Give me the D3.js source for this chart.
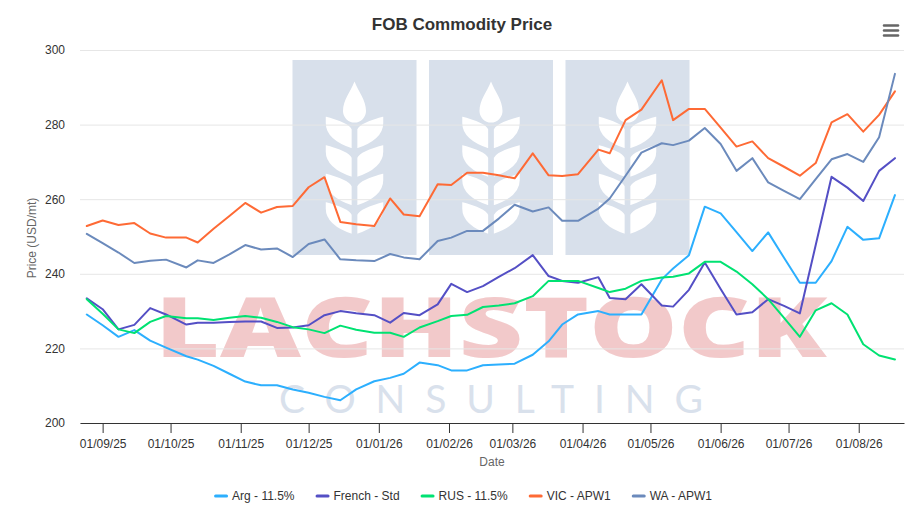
<!DOCTYPE html>
<html>
<head>
<meta charset="utf-8">
<script src="https://cdn.jsdelivr.net/npm/d3@7"></script>
<style>
  body { margin: 0; background: #ffffff; }
  text { font-family: "Liberation Sans", Arial, sans-serif; }
</style>
</head>
<body>
<div id="chart"></div>
<script>
// weekly observation dates
var dates = ["2025-08-25","2025-09-01","2025-09-08","2025-09-15","2025-09-22","2025-09-29",
  "2025-10-08","2025-10-13","2025-10-20","2025-10-27","2025-11-03","2025-11-10","2025-11-17",
  "2025-11-24","2025-12-01","2025-12-08","2025-12-15","2025-12-22","2025-12-30","2026-01-06",
  "2026-01-12","2026-01-19","2026-01-27","2026-02-02","2026-02-09","2026-02-16","2026-02-23",
  "2026-03-02","2026-03-10","2026-03-17","2026-03-23","2026-03-30","2026-04-08","2026-04-13",
  "2026-04-20","2026-04-27","2026-05-06","2026-05-11","2026-05-18","2026-05-25","2026-06-01",
  "2026-06-08","2026-06-15","2026-06-22","2026-06-29","2026-07-06","2026-07-13","2026-07-20",
  "2026-07-27","2026-08-03","2026-08-10","2026-08-17"];

var argValues = [229.1,226.2,223.1,224.9,222.1,220.2,217.9,217.0,215.3,213.2,211.1,210.1,210.1,
  209.0,208.1,207.0,206.1,209.0,211.2,212.1,213.2,216.2,215.5,214.1,214.1,215.5,215.7,215.9,
  218.3,221.9,226.4,229.1,230.0,229.1,229.1,229.1,238.5,241.4,245.0,258.0,256.2,251.2,246.1,
  251.1,244.3,237.6,237.6,243.4,252.6,249.1,249.5,261.1];

var frenchValues = [233.4,230.5,225.1,226.3,230.8,229.1,226.4,226.9,226.9,227.1,227.2,227.2,225.5,
  225.6,226.2,228.9,230.0,229.4,228.9,226.9,229.5,228.9,231.8,237.3,235.1,236.7,239.2,241.5,
  245.0,239.4,238.1,237.6,239.1,233.5,233.2,237.2,231.5,231.2,235.7,243.0,235.9,229.1,229.7,
  233.2,231.4,229.4,247.7,266.0,263.1,259.5,267.6,271.0];

var rusValues = [233.2,229.3,225.1,224.1,227.1,228.7,228.1,228.1,227.6,228.2,228.7,228.2,227.1,
  225.7,225.1,224.1,226.1,225.0,224.2,224.2,223.1,225.6,227.3,228.7,229.0,231.1,231.5,232.1,
  234.0,238.1,238.1,238.1,236.2,235.1,236.0,238.1,239.0,239.2,240.1,243.2,243.2,240.6,237.2,
  233.2,228.2,223.1,230.2,232.1,229.1,221.1,218.1,217.0];

var vicValues = [252.8,254.3,253.1,253.6,250.8,249.7,249.7,248.4,252.1,255.5,259.0,256.4,257.9,
  258.2,263.2,265.9,253.9,253.3,252.8,260.2,255.9,255.4,264.0,263.8,267.1,267.1,266.4,265.6,
  272.3,266.4,266.2,266.7,273.3,272.3,281.2,284.0,291.9,281.2,284.2,284.2,279.2,274.1,275.5,
  271.0,268.7,266.3,269.7,280.6,282.8,278.1,282.6,288.9];

var waValues = [250.7,248.2,245.7,242.9,243.5,243.8,241.7,243.6,242.9,245.2,247.7,246.5,246.8,
  244.5,248.0,249.2,243.9,243.6,243.4,245.3,244.4,243.9,248.8,249.7,251.5,251.5,254.8,258.5,
  256.7,257.8,254.2,254.2,257.5,260.2,266.3,272.5,275.0,274.5,275.7,279.1,274.8,267.6,271.0,
  264.5,262.2,260.0,265.4,270.7,272.1,270.0,276.6,293.6];

var seriesNames = ["Arg - 11.5%", "French - Std", "RUS - 11.5%", "VIC - APW1", "WA - APW1"];
var seriesColors = ["#2caffe", "#544fc5", "#00e272", "#fe6a35", "#6b8abc"];
var yTicks = [200, 220, 240, 260, 280, 300];
var xTickDates = ["2025-09-01","2025-10-01","2025-11-01","2025-12-01","2026-01-01","2026-02-01",
  "2026-03-01","2026-04-01","2026-05-01","2026-06-01","2026-07-01","2026-08-01"];

var svgWidth = 922;
var svgHeight = 521;

var margin = {
    top: 50,
    right: 18,
    bottom: 98,
    left: 80
};

var width = svgWidth - margin.left - margin.right;
var height = svgHeight - margin.top - margin.bottom;

var parseDate = d3.utcParse("%Y-%m-%d");

var allSeries = [argValues, frenchValues, rusValues, vicValues, waValues].map(function(vals, i) {
    return {
        name: seriesNames[i],
        color: seriesColors[i],
        points: vals.map(function(v, j) { return { date: parseDate(dates[j]), value: v }; })
    };
});

var svg = d3.select("#chart")
    .append("svg")
    .attr("width", svgWidth)
    .attr("height", svgHeight);

var chartGroup = svg.append("g")
    .attr("transform", `translate(${margin.left}, ${margin.top})`);

var xScale = d3.scaleUtc()
    .domain([parseDate("2025-08-22"), parseDate("2026-08-21")])
    .range([0, width]);

var yScale = d3.scaleLinear()
    .domain([200, 300])
    .range([height, 0]);

// watermark (logo panels + wording) sits behind the grid
var wm = chartGroup.append("g").attr("class", "watermark");
var cx = width / 2 - 1;
var panelColor = "#d8e0eb";

[-136.5, 0, 136.5].forEach(function(off) {
    var pc = cx + off;
    wm.append("rect")
        .attr("x", pc - 62).attr("y", 10)
        .attr("width", 124).attr("height", 195)
        .attr("fill", panelColor);

    // grain at the top
    wm.append("path")
        .attr("d", `M${pc},31.5 C${pc + 4},42 ${pc + 11.5},50 ${pc + 11.5},61 A11.5,11.5 0 0 1 ${pc - 11.5},61 C${pc - 11.5},50 ${pc - 4},42 ${pc},31.5 Z`)
        .attr("fill", "#ffffff");

    [65, 93.5, 122, 150.5].forEach(function(y0) {
        [-1, 1].forEach(function(s) {
            wm.append("path")
                .attr("d", `M${pc + s * 1.6},${y0 + 35} C${pc + s * 14},${y0 + 31} ${pc + s * 30},${y0 + 24} ${pc + s * 30},${y0 + 8} L${pc + s * 30},${y0} C${pc + s * 18},${y0 + 3} ${pc + s * 4},${y0 + 8} ${pc + s * 1.6},${y0 + 14} Z`)
                .attr("fill", "#ffffff")
                .attr("stroke", panelColor)
                .attr("stroke-width", 2.5);
        });
    });
});

wm.append("text")
    .attr("x", cx - 336).attr("y", 307)
    .attr("textLength", 672)
    .attr("lengthAdjust", "spacingAndGlyphs")
    .style("font-family", "'Open Sans', 'DejaVu Sans', sans-serif")
    .style("font-weight", 800)
    .style("font-size", "84px")
    .attr("fill", "#f2c9ca")
    .text("LACHSTOCK");

wm.append("text")
    .attr("x", cx - 212).attr("y", 363)
    .attr("textLength", 424)
    .attr("lengthAdjust", "spacing")
    .style("font-family", "Lato, 'Open Sans', sans-serif")
    .style("font-weight", 400)
    .style("font-size", "39px")
    .attr("fill", "#d9e1ec")
    .text("CONSULTING");

// y axis with grid lines
var leftAxis = d3.axisLeft(yScale)
    .tickValues(yTicks)
    .tickSize(-width)
    .tickPadding(15);

var yAxisGroup = chartGroup.append("g").call(leftAxis);
yAxisGroup.select(".domain").remove();
yAxisGroup.selectAll(".tick line").attr("stroke", "#e6e6e6");
yAxisGroup.selectAll(".tick text")
    .attr("fill", "#333333")
    .style("font-size", "12px")
    .style("font-family", "'Liberation Sans', Arial, sans-serif");

// x axis
var bottomAxis = d3.axisBottom(xScale)
    .tickValues(xTickDates.map(parseDate))
    .tickFormat(d3.utcFormat("%d/%m/%y"))
    .tickSize(10)
    .tickSizeOuter(0)
    .tickPadding(6);

var xAxisGroup = chartGroup.append("g")
    .attr("transform", `translate(0, ${height})`)
    .call(bottomAxis);
xAxisGroup.select(".domain").attr("stroke", "#333333");
xAxisGroup.selectAll(".tick line").attr("stroke", "#333333");
xAxisGroup.selectAll(".tick text")
    .attr("fill", "#333333")
    .style("font-size", "12px")
    .style("font-family", "'Liberation Sans', Arial, sans-serif");

// series lines
var line = d3.line()
    .x(d => xScale(d.date))
    .y(d => yScale(d.value));

chartGroup.selectAll(".series")
    .data(allSeries)
    .enter()
    .append("path")
    .attr("class", "series")
    .attr("d", d => line(d.points))
    .attr("fill", "none")
    .attr("stroke", d => d.color)
    .attr("stroke-width", 2)
    .attr("stroke-linejoin", "round")
    .attr("stroke-linecap", "round");

// titles
svg.append("text")
    .attr("x", 462)
    .attr("y", 30)
    .attr("text-anchor", "middle")
    .style("font-size", "17px")
    .style("font-weight", "bold")
    .attr("fill", "#333333")
    .text("FOB Commodity Price");

chartGroup.append("text")
    .attr("transform", `translate(${31.5 - margin.left}, ${238 - margin.top}) rotate(-90)`)
    .attr("text-anchor", "middle")
    .attr("dy", "0.35em")
    .style("font-size", "12px")
    .attr("fill", "#666666")
    .text("Price (USD/mt)");

chartGroup.append("text")
    .attr("x", width / 2)
    .attr("y", height + 43)
    .attr("text-anchor", "middle")
    .style("font-size", "12px")
    .attr("fill", "#666666")
    .text("Date");

// export menu icon
[25.5, 30.5, 35.5].forEach(function(yy) {
    svg.append("line")
        .attr("x1", 884).attr("x2", 898)
        .attr("y1", yy).attr("y2", yy)
        .attr("stroke", "#666666")
        .attr("stroke-width", 2.5)
        .attr("stroke-linecap", "round");
});

// legend
var legend = svg.append("g");
var legendX = 0;
allSeries.forEach(function(s) {
    var item = legend.append("g").attr("transform", `translate(${legendX}, 0)`);
    item.append("line")
        .attr("x1", 1.5).attr("x2", 12.5)
        .attr("y1", -4).attr("y2", -4)
        .attr("stroke", s.color)
        .attr("stroke-width", 3)
        .attr("stroke-linecap", "round");
    var t = item.append("text")
        .attr("x", 18)
        .attr("y", 0)
        .style("font-size", "12px")
        .attr("fill", "#333333")
        .text(s.name);
    legendX += 18 + t.node().getComputedTextLength() + 21;
});
legendX -= 21;
legend.attr("transform", `translate(${463 - legendX / 2}, 500)`);
</script>
</body>
</html>
